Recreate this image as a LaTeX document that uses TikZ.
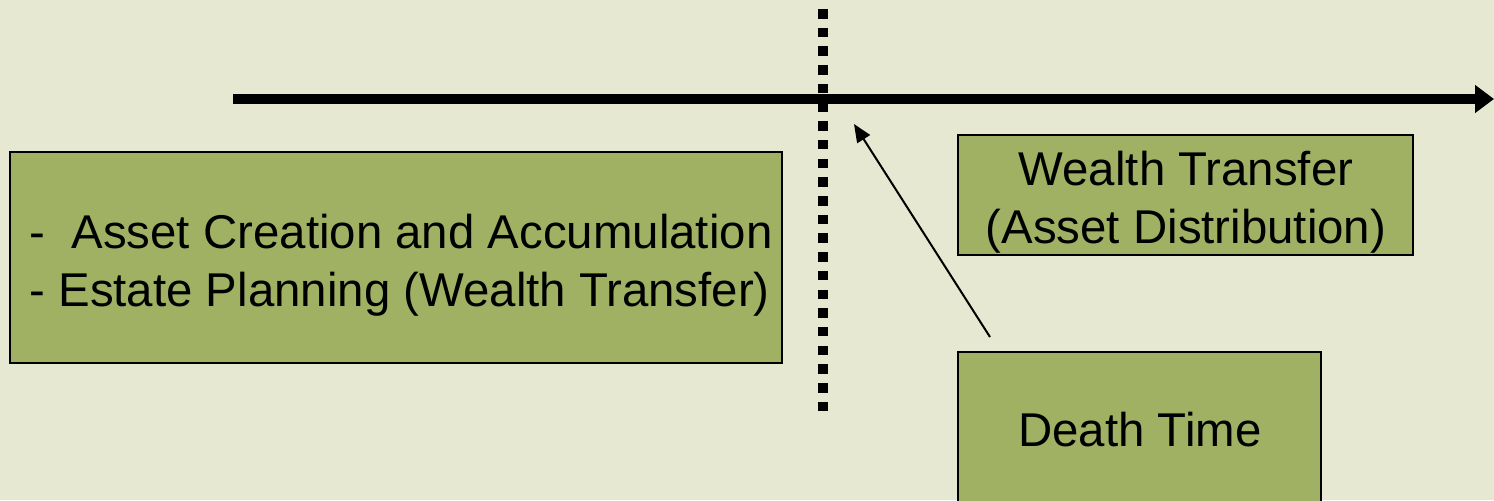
\documentclass[tikz,border=0pt]{standalone}
\usepackage{fontspec}
\setmainfont{Liberation Sans}
\usetikzlibrary{arrows.meta}
\definecolor{bg}{HTML}{E6E8D2}
\definecolor{boxgreen}{HTML}{A0B163}
\begin{document}
\begin{tikzpicture}[x=0.5pt,y=-0.5pt,
  greenbox/.style={draw=black, line width=1pt, fill=boxgreen, inner sep=0pt},
  boxtext/.style={inner sep=0pt, font=\fontsize{23.7pt}{28.8pt}\selectfont},
]
\useasboundingbox (0,0) rectangle (1494,500);
\clip (0,0) rectangle (1494,500);
\fill[bg] (0,0) rectangle (1494,500);
% dotted vertical line
\coordinate (dtop) at (823,9);
\coordinate (dbot) at (823,412);
\draw[line width=4.75pt, dash pattern=on 4.75pt off 4.6pt] (dtop) -- (dbot);
% time axis
\coordinate (astart) at (233,99);
\coordinate (aend) at (1494,99);
\draw[line width=4.7pt, -{Triangle[length=9.5pt,width=13.5pt]}] (astart) -- (aend);
% boxes
\node[greenbox, minimum width=386pt, minimum height=105.5pt] (life) at (396,257.5) {};
\node[boxtext, align=left] (lifetext) at (401,265)
  {-\ \ Asset Creation and Accumulation\\- Estate Planning (Wealth Transfer)};
\node[greenbox, minimum width=227.5pt, minimum height=60pt] (transfer) at (1185.5,195) {};
\node[boxtext, align=center] (transfertext) at (1186,202)
  {Wealth Transfer\\(Asset Distribution)};
\node[greenbox, minimum width=181.5pt, minimum height=78pt] (death) at (1139.5,430) {};
\node[boxtext] (deathtext) at (1140,430) {Death Time};
% pointer arrow
\coordinate (ptip) at (854,124);
\coordinate (ptail) at (990,337);
\draw[line width=1pt, -{Triangle[length=9pt,width=7.5pt]}] (ptail) -- (ptip);
\end{tikzpicture}
\end{document}
